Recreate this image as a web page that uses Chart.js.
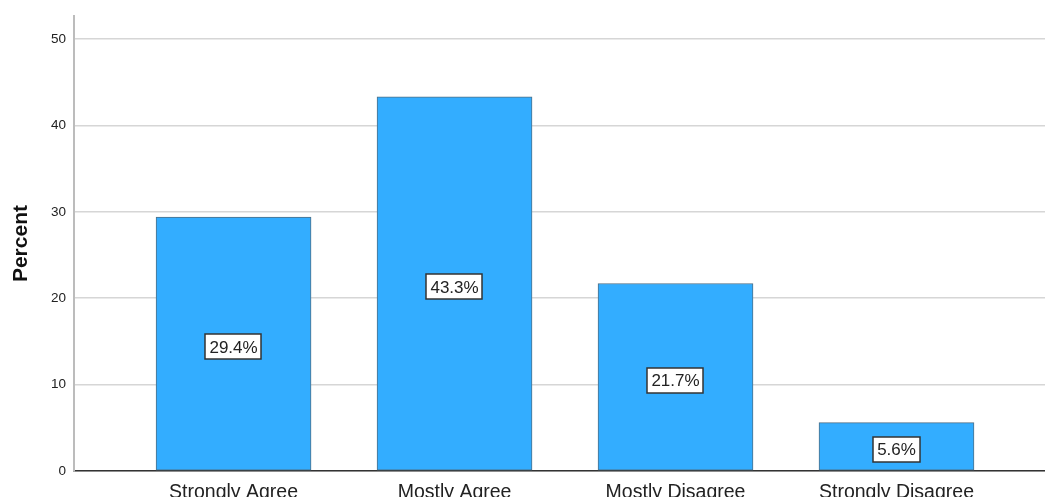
<!DOCTYPE html>
<html>
<head>
<meta charset="utf-8">
<script src="https://cdn.jsdelivr.net/npm/chart.js@4.4.1/dist/chart.umd.min.js"></script>
<style>
  html, body { margin: 0; padding: 0; background: #fff; }
  #wrap { width: 1045px; height: 497px; }
</style>
</head>
<body>
<div id="wrap"><canvas id="myChart" width="1045" height="497"></canvas></div>
<script>
const categories = ['Strongly Agree', 'Mostly Agree', 'Mostly Disagree', 'Strongly Disagree'];
const percents = [29.4, 43.3, 21.7, 5.6];
const yTicks = [0, 10, 20, 30, 40, 50];

const points = categories.map((c, i) => ({ x: i, y: percents[i] }));

// boxed percent labels in the middle of each bar
const boxLabels = {
  id: 'boxLabels',
  afterDatasetsDraw(chart) {
    const ctx = chart.ctx;
    const xs = chart.scales.x, ys = chart.scales.y;
    ctx.save();
    ctx.font = '17px "Liberation Sans", Arial, sans-serif';
    ctx.textAlign = 'center';
    ctx.textBaseline = 'middle';
    percents.forEach((v, i) => {
      const txt = v.toFixed(1) + '%';
      const cx = xs.getPixelForValue(i);
      const cy = ys.getPixelForValue(v / 2) + 3;
      const w = ctx.measureText(txt).width + 8;
      const h = 25;
      ctx.fillStyle = '#fff';
      ctx.fillRect(Math.round(cx - w / 2), Math.round(cy - h / 2), Math.round(w), h);
      ctx.strokeStyle = '#333';
      ctx.lineWidth = 1.5;
      ctx.strokeRect(Math.round(cx - w / 2), Math.round(cy - h / 2), Math.round(w), h);
      ctx.fillStyle = '#222';
      ctx.fillText(txt, cx, cy + 1);
    });
    ctx.restore();
  }
};

const ctx = document.getElementById('myChart').getContext('2d');
const barChart = new Chart(ctx, {
  type: 'bar',
  data: {
    datasets: [{
      data: points,
      backgroundColor: '#33adff',
      borderColor: '#4f6f85',
      borderWidth: 1,
      borderSkipped: false,
      barThickness: 155
    }]
  },
  options: {
    responsive: false,
    animation: false,
    layout: { padding: { top: 14, right: 0, left: 0, bottom: 0 } },
    plugins: { legend: { display: false }, tooltip: { enabled: false } },
    scales: {
      x: {
        type: 'linear',
        offset: false,
        min: -0.722,
        max: 3.672,
        afterBuildTicks(axis) { axis.ticks = categories.map((c, i) => ({ value: i })); },
        afterFit(axis) { axis.height = 26; },
        grid: { display: false },
        border: { color: '#333', width: 1.5 },
        ticks: {
          callback: (v) => categories[v],
          font: { family: '"Liberation Sans", Arial, sans-serif', size: 19.5 },
          color: '#222',
          padding: 2,
          maxRotation: 0
        }
      },
      y: {
        min: 0,
        max: 52.65,
        afterBuildTicks(axis) { axis.ticks = yTicks.map(v => ({ value: v })); },
        afterFit(axis) { axis.width = 74; },
        grid: { color: '#d6d6d6', lineWidth: 1.5, drawTicks: false },
        border: { color: '#bcbcbc', width: 2 },
        ticks: {
          font: { family: '"Liberation Sans", Arial, sans-serif', size: 13.5 },
          color: '#222',
          padding: 8
        },
        title: {
          display: true,
          text: 'Percent',
          font: { family: '"Liberation Sans Narrow", "Liberation Sans", Arial, sans-serif', size: 21, weight: 'bold' },
          color: '#111',
          padding: { top: 9, bottom: 0 }
        }
      }
    }
  },
  plugins: [boxLabels]
});
</script>
</body>
</html>
